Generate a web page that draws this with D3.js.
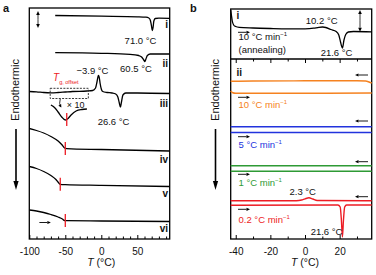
<!DOCTYPE html>
<html>
<head>
<meta charset="utf-8">
<script src="https://cdn.jsdelivr.net/npm/d3@7"></script>
<style>
body { margin: 0; background: #fff; }
svg { font-family: "Liberation Sans", Arial, sans-serif; }
</style>
</head>
<body>
<div id="chart"></div>
<script>
// ---- data (T in °C, heat flow in a.u., endothermic down) ----
var aTicks = [-100, -50, 0, 50];
var bTicks = [-40, -20, 0, 20];

// panel a traces
var aI = [[-64,-0.75],[0,-0.82],[50,-0.88],[62,-0.92],[66,-1.0],[68,-1.2],[69.5,-1.7],[71,-2.25],[72,-1.9],[73,-1.3],[75,-1.05],[80,-1.02],[95,-1.03]];
var aII = [[-64,-4.47],[0,-4.53],[40,-4.63],[52,-4.75],[56,-4.9],[59,-5.2],[60.5,-5.35],[62,-5.1],[64,-4.75],[68,-4.6],[95,-4.6]];
var aIII = [[-100,-8.35],[-90,-8.38],[-80,-8.45],[-70,-8.48],[-60,-8.45],[-50,-8.4],[-40,-8.35],[-20,-8.3],[-12,-8.25],[-8,-8.0],[-6,-7.4],[-4.5,-6.85],[-3.9,-6.75],[-3,-6.9],[-1.5,-7.6],[0,-8.1],[2,-8.35],[8,-8.45],[15,-8.5],[20,-8.6],[23,-8.9],[25,-9.5],[26.6,-9.9],[28,-9.4],[30,-8.7],[34,-8.5],[50,-8.5],[95,-8.55]];
var aInset = [[-70,-9.7],[-65,-9.95],[-60,-10.4],[-55,-10.9],[-50,-11.2],[-47,-11.1],[-42,-10.7],[-35,-10.3],[-27,-10.15],[-20,-10.1]];
var aIV = [[-100,-12.05],[-90,-12.25],[-80,-12.5],[-70,-12.85],[-60,-13.3],[-55,-13.65],[-51,-14.0],[-48,-14.06],[0,-14.15],[95,-14.3]];
var aV = [[-100,-15.85],[-90,-16.05],[-80,-16.35],[-70,-16.75],[-63,-17.15],[-59,-17.5],[-57,-17.63],[-50,-17.66],[0,-17.73],[95,-17.85]];
var aVI = [[-100,-20.2],[-90,-20.3],[-80,-20.45],[-70,-20.65],[-60,-20.9],[-54,-21.1],[-51,-21.25],[-48,-21.27],[0,-21.3],[95,-21.35]];
var aTgOffsets = [[-48,-11.15],[-50,-14.05],[-57,-17.63],[-50,-21.25]];
var aZoomBox = [[-71,-8.03],[-18,-9.05]];

// panel b traces
var bI = [[-42.9,-0.1],[-42.5,-0.6],[-42,-1.2],[-41.2,-1.6],[-40,-1.75],[-38,-1.83],[-30,-1.9],[-20,-1.95],[-10,-1.98],[0,-1.98],[5,-1.92],[8,-1.83],[10.2,-1.8],[12,-1.85],[15,-2.05],[18,-2.25],[19.5,-2.6],[20.5,-3.3],[21.6,-3.9],[22.5,-3.1],[23.5,-2.55],[25,-2.3],[28,-2.25],[38.5,-2.28]];
var bOrangeCool = [[-42.9,-7.23],[-30,-7.2],[0,-7.18],[30,-7.17],[35,-7.2],[37,-7.3],[38.5,-7.4]];
var bOrangeHeat = [[-42.9,-8.2],[-42,-8.35],[-40,-8.43],[0,-8.43],[38.5,-8.4]];
var bBlueCool = [[-42.9,-11.77],[38.5,-11.77]];
var bBlueHeat = [[-42.9,-12.35],[38.5,-12.35]];
var bGreenCool = [[-42.9,-15.67],[38.5,-15.67]];
var bGreenHeat = [[-42.9,-16.23],[38.5,-16.23]];
var bRedCool = [[-42.9,-19.17],[-5,-19.17],[-2,-19.1],[0,-18.98],[2.3,-18.88],[4.5,-19.0],[7,-19.15],[38.5,-19.17]];
var bRedHeat = [[-42.9,-19.63],[19,-19.6],[20.3,-19.8],[21,-21.1],[21.6,-22.8],[22.2,-21.1],[22.9,-19.8],[24,-19.6],[38.5,-19.6]];
var bRates = ["10", "5", "1", "0.2"];

var orange = "#f58220", blue = "#2233dd", green = "#2e9a35", red = "#ed1c24";

var svg = d3.select("#chart").append("svg")
	.attr("width", 376)
	.attr("height", 275);

function arrow(g, x1, y1, x2, y2, hw, hl, sw) {
	var a = Math.atan2(y2 - y1, x2 - x1);
	var bx = x2 - hl * Math.cos(a), by = y2 - hl * Math.sin(a);
	g.append("line").attr("x1", x1).attr("y1", y1).attr("x2", bx).attr("y2", by)
		.attr("stroke", "#000").attr("stroke-width", sw);
	g.append("path")
		.attr("d", "M" + x2 + "," + y2 +
			"L" + (bx + hw * Math.sin(a)) + "," + (by - hw * Math.cos(a)) +
			"L" + (bx - hw * Math.sin(a)) + "," + (by + hw * Math.cos(a)) + "Z")
		.attr("fill", "#000");
}

function dblArrow(g, x, y1, y2) {
	arrow(g, x, (y1 + y2) / 2, x, y1, 1.8, 4, 0.8);
	arrow(g, x, (y1 + y2) / 2, x, y2, 1.8, 4, 0.8);
}

function label(g, x, y, txt, opts) {
	opts = opts || {};
	var t = g.append("text").attr("x", x).attr("y", y)
		.attr("font-size", opts.size || 9.5)
		.attr("fill", opts.color || "#111")
		.attr("font-weight", opts.bold ? "bold" : null)
		.attr("text-anchor", opts.anchor || "start")
		.text(txt);
	return t;
}

function rateLabel(g, x, y, rate, color) {
	var t = label(g, x, y, rate + " \u00b0C min", { color: color });
	t.append("tspan").attr("dy", -4).attr("font-size", 6).text("\u22121");
	return t;
}

function axes(g, x, yBottom, majors, minors) {
	var ax = g.append("g").attr("transform", "translate(0," + yBottom + ")")
		.call(d3.axisBottom(x).tickValues(majors).tickSize(-4).tickPadding(9).tickFormat(function (d) { return d; }));
	ax.select(".domain").remove();
	ax.selectAll("text").attr("font-size", 10).attr("font-family", "Liberation Sans, Arial, sans-serif").attr("fill", "#111");
	ax.selectAll("line").attr("stroke", "#000").attr("stroke-width", 1);
	var mn = g.append("g").attr("transform", "translate(0," + yBottom + ")")
		.call(d3.axisBottom(x).tickValues(minors).tickSize(-2.5).tickFormat(""));
	mn.select(".domain").remove();
	mn.selectAll("line").attr("stroke", "#000").attr("stroke-width", 1);
}

function endoLabel(g, cx, cy) {
	g.append("text").attr("transform", "translate(" + (cx + 4) + "," + cy + ") rotate(-90)")
		.attr("text-anchor", "middle").attr("font-size", 11).attr("fill", "#111")
		.text("Endothermic");
	arrow(g, cx + 1, 129, cx + 1, 190, 2.6, 9, 1.6);
}

function tLabel(g, cx) {
	var t = g.append("text").attr("x", cx).attr("y", 266).attr("text-anchor", "middle")
		.attr("font-size", 10.5).attr("fill", "#111");
	t.append("tspan").attr("font-style", "italic").text("T");
	t.append("tspan").text(" (\u00b0C)");
}

// ================= panel a =================
var xa = d3.scaleLinear().domain([-100, 95]).range([29.3, 169.7]);
var ya = d3.scaleLinear().domain([0, -23.1]).range([8, 239]);
var lineA = d3.line().x(function (d) { return xa(d[0]); }).y(function (d) { return ya(d[1]); }).curve(d3.curveMonotoneX);

var ga = svg.append("g");
label(ga, 3, 12, "a", { bold: true, size: 11 });
ga.append("rect").attr("x", xa(-100)).attr("y", ya(0)).attr("width", xa(95) - xa(-100)).attr("height", ya(-23.1) - ya(0))
	.attr("fill", "none").attr("stroke", "#000").attr("stroke-width", 1.3);
axes(ga, xa, ya(-23.1), aTicks, d3.range(-90, 95, 10).filter(function (d) { return aTicks.indexOf(d) < 0; }));

[aI, aII, aIII, aInset, aIV, aV, aVI].forEach(function (c) {
	ga.append("path").datum(c).attr("d", lineA).attr("fill", "none").attr("stroke", "#000").attr("stroke-width", 1.3);
});

aTgOffsets.forEach(function (d) {
	ga.append("line").attr("x1", xa(d[0])).attr("x2", xa(d[0]))
		.attr("y1", ya(d[1]) - 6.5).attr("y2", ya(d[1]) + 6.5)
		.attr("stroke", red).attr("stroke-width", 1.3);
});

ga.append("rect").attr("x", xa(aZoomBox[0][0])).attr("y", ya(aZoomBox[0][1]))
	.attr("width", xa(aZoomBox[1][0]) - xa(aZoomBox[0][0])).attr("height", ya(aZoomBox[1][1]) - ya(aZoomBox[0][1]))
	.attr("fill", "none").attr("stroke", "#222").attr("stroke-width", 0.9).attr("stroke-dasharray", "2,1.3");

// curved arrow to inset
ga.append("path").attr("d", "M" + (xa(-57)) + "," + ya(-9.1) + " Q" + (xa(-59)) + "," + ya(-9.6) + " " + (xa(-56.5)) + "," + ya(-9.85))
	.attr("fill", "none").attr("stroke", "#000").attr("stroke-width", 0.8);
arrow(ga, xa(-57.2), ya(-9.75), xa(-55.5), ya(-9.95), 1.6, 3, 0.8);
label(ga, xa(-48), ya(-9.95), "\u00d7 10", { size: 9 });

var tg = ga.append("text").attr("x", xa(-67)).attr("y", ya(-7.25)).attr("fill", red).attr("font-size", 10);
tg.append("tspan").attr("font-style", "italic").text("T");
tg.append("tspan").attr("dy", 3).attr("font-size", 5.5).text("g, offset");

label(ga, xa(71) + 4, ya(-3.55), "71.0 \u00b0C", { anchor: "end" });
label(ga, xa(60.5) + 7, ya(-6.35), "60.5 \u00b0C", { anchor: "end" });
label(ga, xa(-3.9) + 10, ya(-6.6), "\u22123.9 \u00b0C", { anchor: "end" });
label(ga, xa(26.6) + 9, ya(-11.7), "26.6 \u00b0C", { anchor: "end" });

var romanA = [-2.0, -5.87, -9.9, -15.5, -18.87, -22.4];
var aLabelsDraw = ["i", "ii", "iii", "iv", "v", "vi"];
aLabelsDraw.forEach(function (s, i) {
	label(ga, 168, ya(romanA[i]), s, { bold: true, anchor: "end", size: 10 });
});

dblArrow(ga, 38, ya(-0.3), ya(-2.0));
arrow(ga, xa(-86), ya(-21.45), xa(-70), ya(-21.45), 1.6, 3.5, 0.9);
endoLabel(ga, 15, 90);
tLabel(ga, xa(0));

// ================= panel b =================
var xb = d3.scaleLinear().domain([-42.9, 38.5]).range([230.7, 371.7]);
var yb = d3.scaleLinear().domain([0, -23.0]).range([9, 239]);
var lineB = d3.line().x(function (d) { return xb(d[0]); }).y(function (d) { return yb(d[1]); }).curve(d3.curveMonotoneX);

var gb = svg.append("g");
label(gb, 190, 12, "b", { bold: true, size: 11 });
gb.append("rect").attr("x", xb(-42.9)).attr("y", yb(0)).attr("width", xb(38.5) - xb(-42.9)).attr("height", yb(-23) - yb(0))
	.attr("fill", "none").attr("stroke", "#000").attr("stroke-width", 1.3);
gb.append("line").attr("x1", xb(-42.9)).attr("x2", xb(38.5)).attr("y1", yb(-5.0)).attr("y2", yb(-5.0))
	.attr("stroke", "#000").attr("stroke-width", 1.3);

var bMinor = [-30, -10, 10, 30];
axes(gb, xb, yb(-23), bTicks, bMinor);
// inward ticks on top of box ii
var tops = gb.append("g").attr("transform", "translate(0," + yb(-5.0) + ")")
	.call(d3.axisTop(xb).tickValues(bTicks).tickSize(-4).tickFormat(""));
tops.select(".domain").remove();
var tops2 = gb.append("g").attr("transform", "translate(0," + yb(-5.0) + ")")
	.call(d3.axisTop(xb).tickValues(bMinor).tickSize(-2.5).tickFormat(""));
tops2.select(".domain").remove();
gb.selectAll(".tick line").attr("stroke", "#000");

gb.append("path").datum(bI).attr("d", lineB).attr("fill", "none").attr("stroke", "#000").attr("stroke-width", 1.3);
[[bOrangeCool, bOrangeHeat, orange], [bBlueCool, bBlueHeat, blue], [bGreenCool, bGreenHeat, green], [bRedCool, bRedHeat, red]].forEach(function (p) {
	gb.append("path").datum(p[0]).attr("d", lineB).attr("fill", "none").attr("stroke", p[2]).attr("stroke-width", 1.4);
	gb.append("path").datum(p[1]).attr("d", lineB).attr("fill", "none").attr("stroke", p[2]).attr("stroke-width", 1.4);
});

label(gb, 236.5, yb(-1.0), "i", { bold: true, size: 10 });
label(gb, xb(10.2) - 1, yb(-1.45), "10.2 \u00b0C", { anchor: "middle" });
arrow(gb, 238, yb(-2.33), 250, yb(-2.33), 1.6, 3.5, 0.9);
rateLabel(gb, 238.5, yb(-3.1), "10", "#111");
label(gb, 238.5, yb(-4.43), "(annealing)");
label(gb, xb(21.6) + 10, yb(-4.65), "21.6 \u00b0C", { anchor: "end" });
dblArrow(gb, 360, yb(-0.1), yb(-2.27));

label(gb, 236.5, yb(-6.7), "ii", { bold: true, size: 10 });

var bColors = [orange, blue, green, red];
var bCoolArrowY = [-6.6, -11.2, -15.27, -18.77];
var bHeatArrowY = [-8.83, -12.77, -16.53, -20.03];
var bLabelY = [-9.93, -13.93, -17.7, -21.4];
bRates.forEach(function (r, i) {
	arrow(gb, 368, yb(bCoolArrowY[i]), 355, yb(bCoolArrowY[i]), 1.6, 3.5, 0.9);
	arrow(gb, 238, yb(bHeatArrowY[i]), 250, yb(bHeatArrowY[i]), 1.6, 3.5, 0.9);
	rateLabel(gb, 238.5, yb(bLabelY[i]), r, bColors[i]);
});

label(gb, xb(2.3) + 7, yb(-18.6), "2.3 \u00b0C", { anchor: "end" });
label(gb, xb(21.6), yb(-22.6), "21.6 \u00b0C", { anchor: "end" });

endoLabel(gb, 214.5, 90);
tLabel(gb, xb(0));
</script>
</body>
</html>
